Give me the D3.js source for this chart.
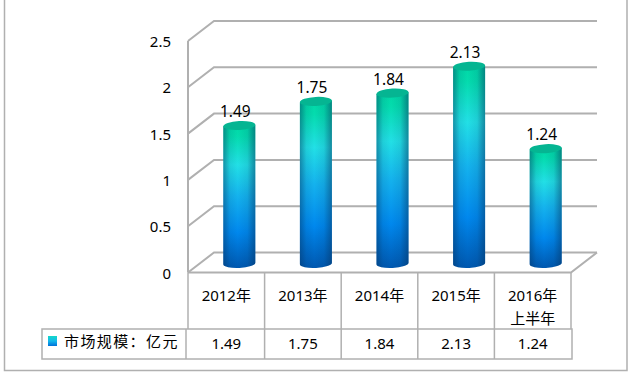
<!DOCTYPE html>
<html>
<head>
<meta charset="utf-8">
<script src="https://cdn.jsdelivr.net/npm/d3@7"></script>
<style>
html, body { margin: 0; padding: 0; background: #fff; }
svg { display: block; }
text { font-family: "Noto Sans", "Noto Sans CJK SC", sans-serif; fill: #000; }
</style>
</head>
<body>
<svg id="canvas"></svg>
<script>
const categories = ["2012年", "2013年", "2014年", "2015年", "2016年\n上半年"];
const values = [1.49, 1.75, 1.84, 2.13, 1.24];
const yTicks = [0, 0.5, 1, 1.5, 2, 2.5];
const seriesName = "市场规模：亿元";

const width = 632;
const height = 374;
const svg = d3.select("#canvas").attr("width", width).attr("height", height);

// front plane of the 3d box
const frontLeft = 188;
const frontRight = 571;
const frontBottom = 272.5;
const frontTop = 41;
// how far the back wall is pushed up and right
const depthX = 26;
const depthY = -20;
const gridColor = "#b0b0b0";

const xScale = d3.scaleBand().domain(categories).range([frontLeft, frontRight]);
const yScale = d3.scaleLinear().domain([0, 2.5]).range([frontBottom, frontTop]);

// outer frame
svg.append("path")
    .attr("d", `M4.5,0V370.5H627V0`)
    .attr("fill", "none")
    .attr("stroke", "#b0b0b0")
    .attr("stroke-width", 1.5);

const defs = svg.append("defs");

const bodyGrad = defs.append("linearGradient").attr("id", "bodyGrad")
    .attr("x1", 0).attr("y1", 0).attr("x2", 0).attr("y2", 1);
[[0, "#00d9a6"], [0.08, "#04dcae"], [0.28, "#22e0e6"], [0.5, "#14b2ee"], [0.75, "#0088ee"], [1, "#0058b0"]]
    .forEach(s => bodyGrad.append("stop").attr("offset", s[0]).attr("stop-color", s[1]));

const shadeGrad = defs.append("linearGradient").attr("id", "shadeGrad")
    .attr("x1", 0).attr("y1", 0).attr("x2", 1).attr("y2", 0);
[[0, 0.45], [0.2, 0.1], [0.45, 0], [0.75, 0.1], [1, 0.5]]
    .forEach(s => shadeGrad.append("stop").attr("offset", s[0])
        .attr("stop-color", "#06305a").attr("stop-opacity", s[1]));

const legendGrad = defs.append("linearGradient").attr("id", "legendGrad")
    .attr("x1", 0).attr("y1", 0).attr("x2", 0).attr("y2", 1);
[[0, "#14d8c8"], [0.5, "#14b8ec"], [1, "#0070d8"]]
    .forEach(s => legendGrad.append("stop").attr("offset", s[0]).attr("stop-color", s[1]));

// grid: side wall diagonals and back wall lines
const grid = svg.append("g").attr("stroke", gridColor).attr("stroke-width", 2).attr("fill", "none");
yTicks.forEach(t => {
    const y = yScale(t);
    grid.append("path").attr("d", `M${frontLeft},${y}l${depthX},${depthY}H${frontRight + depthX}`);
});
// side wall upright and floor front edge
grid.append("line").attr("x1", frontLeft).attr("x2", frontLeft).attr("y1", frontTop).attr("y2", frontBottom);
grid.append("path").attr("d", `M${frontLeft},${frontBottom}H${frontRight}l${depthX},${depthY}`);

// y axis labels
svg.append("g").selectAll("text")
    .data(yTicks)
    .join("text")
    .attr("x", 171)
    .attr("y", d => yScale(d) + 6)
    .attr("text-anchor", "end")
    .attr("font-size", 15)
    .text(d => d);

// cylinders
const barWidth = 32;
const barShift = 13;
const baseLift = 9;
const ry = 4.5;
const tilt = -3;
const cx = d => xScale(d) + xScale.bandwidth() / 2 + barShift;

const bars = svg.append("g").selectAll("g")
    .data(values)
    .join("g");

const cylinder = (v, i) => {
    const x0 = cx(categories[i]) - barWidth / 2;
    const x1 = x0 + barWidth;
    const yb = yScale(0) - baseLift;
    const yt = yScale(v) - baseLift;
    const dy = Math.tan(tilt * Math.PI / 180) * barWidth / 2;
    return `M${x0},${yt - dy}L${x1},${yt + dy}L${x1},${yb + dy}A${barWidth / 2},${ry} ${tilt} 0 1 ${x0},${yb - dy}Z`;
};

bars.append("path").attr("d", cylinder).attr("fill", "url(#bodyGrad)");
bars.append("path").attr("d", cylinder).attr("fill", "url(#shadeGrad)");
bars.append("ellipse")
    .attr("cx", 0).attr("cy", 0)
    .attr("rx", barWidth / 2).attr("ry", ry)
    .attr("transform", (v, i) => `translate(${cx(categories[i])},${yScale(v) - baseLift}) rotate(${tilt})`)
    .attr("fill", "#05b592");

// value labels over the bars
svg.append("g").selectAll("text")
    .data(values)
    .join("text")
    .attr("x", (v, i) => cx(categories[i]) - 4)
    .attr("y", v => yScale(v) - baseLift - 8.5)
    .attr("text-anchor", "middle")
    .attr("font-size", 15.5)
    .text(d => d);

// data table under the chart
const tableTop = 329;
const tableBottom = 359;
const tableLeft = 42;
const tableRight = 572;
const tableColor = "#b0b0b0";
const table = svg.append("g").attr("stroke", tableColor).attr("stroke-width", 1.5).attr("fill", "none");

categories.forEach((c, i) => {
    const x = xScale(c);
    table.append("line").attr("x1", x).attr("x2", x).attr("y1", frontBottom).attr("y2", i === 0 ? tableTop : tableBottom);
});
table.append("line").attr("x1", frontRight).attr("x2", frontRight).attr("y1", frontBottom).attr("y2", tableTop);
table.append("line").attr("x1", frontLeft - 2).attr("x2", frontLeft - 2).attr("y1", tableTop).attr("y2", tableBottom);
table.append("rect")
    .attr("x", tableLeft).attr("y", tableTop)
    .attr("width", tableRight - tableLeft).attr("height", tableBottom - tableTop);

svg.append("g").selectAll("text")
    .data(categories)
    .join("text")
    .attr("text-anchor", "middle")
    .attr("font-size", 15)
    .each(function (c) {
        const lines = c.split("\n");
        d3.select(this).selectAll("tspan")
            .data(lines)
            .join("tspan")
            .attr("x", xScale(c) + xScale.bandwidth() / 2)
            .attr("y", (l, i) => 301 + i * 22.5)
            .text(l => l);
    });

svg.append("g").selectAll("text")
    .data(values)
    .join("text")
    .attr("x", (v, i) => xScale(categories[i]) + xScale.bandwidth() / 2)
    .attr("y", 349)
    .attr("text-anchor", "middle")
    .attr("font-size", 15)
    .text(d => d);

// legend cell
svg.append("rect")
    .attr("x", 48).attr("y", 336)
    .attr("width", 9).attr("height", 10)
    .attr("fill", "url(#legendGrad)");
svg.append("text")
    .attr("x", 64).attr("y", 347)
    .attr("font-size", 15)
    .attr("letter-spacing", 1.4)
    .attr("font-family", "'Noto Sans CJK SC', sans-serif")
    .text(seriesName);
</script>
</body>
</html>
